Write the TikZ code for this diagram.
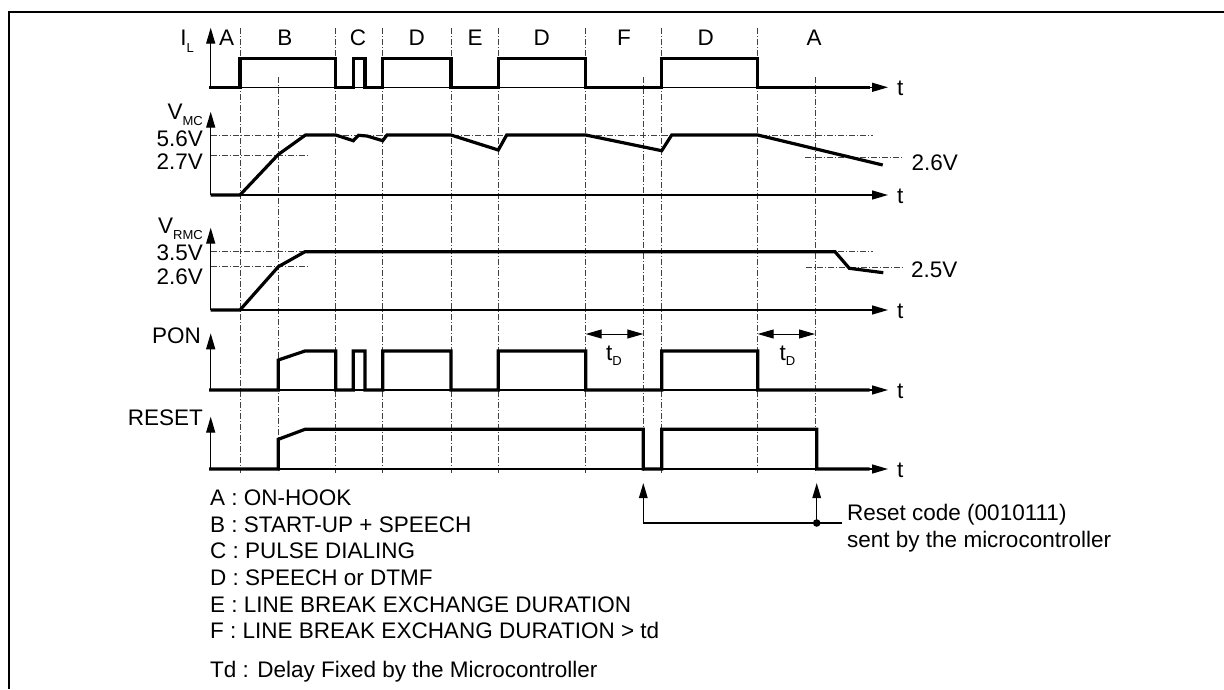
\documentclass[tikz,border=0pt]{standalone}
\usepackage{fontspec}
\setmainfont{Liberation Sans}
\usetikzlibrary{arrows.meta}
\newcommand\lsub[2][-7pt]{\raisebox{#1}{\fontsize{13}{13}\selectfont #2}}
\tikzset{
  sig/.style={line width=3.2pt, line join=miter, line cap=rect},
  axisline/.style={line width=1.4pt, -{Triangle[length=16pt,width=9pt]}},
  gridline/.style={line width=0.7pt, black!75, dash pattern=on 6pt off 2pt on 1pt off 2pt},
  lbl/.style={font=\fontsize{22.5}{27}\selectfont, inner sep=0pt},
  dimline/.style={line width=1pt, {Triangle[length=16pt,width=9pt]}-{Triangle[length=16pt,width=9pt]}},
  codearrow/.style={line width=1.3pt, -{Triangle[length=15pt,width=8.5pt]}},
  thinline/.style={line width=1.3pt}
}
\begin{document}
\begin{tikzpicture}[x=1pt,y=-1pt]
\useasboundingbox (0,0) rectangle (1224,689);
% frame
\draw[line width=2pt] (9,689) -- (9,11.7) -- (1224,11.7);

% vertical guide lines
\foreach \x in {240,335.7,382.7,451,498.3,585.7,661.7,757.7}
  \draw[gridline] (\x,28) -- (\x,473);
\foreach \x in {278.3,643.3,815}
  \draw[gridline] (\x,77) -- (\x,473);

% horizontal reference lines
\draw[gridline] (211,135) -- (872.7,135);
\draw[gridline] (211,155) -- (308,155);
\draw[gridline] (805,157.7) -- (903,157.7);
\draw[gridline] (211,251.7) -- (872.7,251.7);
\draw[gridline] (211,266.7) -- (308,266.7);
\draw[gridline] (806,267.7) -- (904,267.7);

% axes
\foreach \b/\t/\n in {87.3/27.7/1,195/111.7/2,310/227.7/3,390/333.3/4,469/416.7/5} {
  \draw[axisline] (210.7,\b) -- (888,\b);
  \draw[axisline] (210.7,\b) -- (210.7,\t);
  \node[lbl,anchor=base west] (t\n) at (897,\b+8) {t};
}

% period letters
\foreach \x/\l/\n in {226.7/A/1,285/B/2,358/C/3,416.7/D/4,475/E/5,541.7/D/6,624/F/7,705.7/D/8,814/A/9}
  \node[lbl,anchor=base] (per\n) at (\x,45.5) {\l};

% signal labels
\node[lbl,anchor=base east] (lIL) at (194,45) {I\lsub{L}};
\node[lbl,anchor=base east] (lVMC) at (203,119) {V\lsub[-6pt]{MC}};
\node[lbl,anchor=base east] (l56) at (203,146) {5.6V};
\node[lbl,anchor=base east] (l27) at (203,169) {2.7V};
\node[lbl,anchor=base west] (l26r) at (911.5,170) {2.6V};
\node[lbl,anchor=base east] (lVRMC) at (203,233.5) {V\lsub[-5.5pt]{RMC}};
\node[lbl,anchor=base east] (l35) at (203,260.5) {3.5V};
\node[lbl,anchor=base east] (l26) at (203,284.5) {2.6V};
\node[lbl,anchor=base west] (l25r) at (911,277) {2.5V};
\node[lbl,anchor=base east] (lPON) at (201,343) {PON};
\node[lbl,anchor=base east] (lRST) at (203,425) {RESET};

% signals
\draw[sig] (210.7,87.3) -- (240,87.3) -- (240,58.3) -- (335.7,58.3) -- (335.7,87.3)
  -- (353.3,87.3) -- (353.3,58.3) -- (365,58.3) -- (365,87.3) -- (382.7,87.3)
  -- (382.7,58.3) -- (451,58.3) -- (451,87.3) -- (498.3,87.3) -- (498.3,58.3)
  -- (585.7,58.3) -- (585.7,87.3) -- (661.7,87.3) -- (661.7,58.3) -- (757.7,58.3)
  -- (757.7,87.3) -- (868,87.3);
\draw[sig,line cap=butt] (210.7,195) -- (240,195) -- (278.3,154.5) -- (305.5,135) -- (335.7,135)
  -- (353.3,140.7) -- (358.5,135.3) -- (367,136) -- (382.7,140.7) -- (387,135)
  -- (451,135) -- (498.3,150) -- (506.7,135) -- (585.7,135) -- (661.7,150.7)
  -- (671.7,135) -- (757.7,135) -- (882.7,165);
\draw[sig,line cap=butt] (210.7,310) -- (240,310) -- (278.3,266.7) -- (305,251.7) -- (835,251.7)
  -- (849.3,268.3) -- (883.3,272.7);
\draw[sig] (210.7,390) -- (278.3,390) -- (278.3,360) -- (305,351) -- (335.7,351)
  -- (335.7,390) -- (353.3,390) -- (353.3,351) -- (365,351) -- (365,390)
  -- (382.7,390) -- (382.7,351) -- (451,351) -- (451,390) -- (498.3,390)
  -- (498.3,351) -- (585.7,351) -- (585.7,390) -- (661.7,390) -- (661.7,351)
  -- (757.7,351) -- (757.7,390) -- (868,390);
\draw[sig] (210.7,469) -- (278.3,469) -- (278.3,439.3) -- (305,429.3) -- (643.3,429.3)
  -- (643.3,469) -- (661.7,469) -- (661.7,429.3) -- (816.7,429.3) -- (816.7,469)
  -- (868,469);

% tD dimensions
\coordinate (d1a) at (585.7,334); \coordinate (d1b) at (643.3,334);
\coordinate (d2a) at (757.7,334); \coordinate (d2b) at (815,334);
\draw[dimline] (d1a) -- (d1b);
\draw[dimline] (d2a) -- (d2b);
\node[lbl,anchor=base west] (td1) at (606,360) {t\lsub[-5pt]{D}};
\node[lbl,anchor=base west] (td2) at (779.5,360) {t\lsub[-5pt]{D}};

% reset code arrows
\coordinate (r1) at (643.3,523); \coordinate (r1t) at (643.3,483);
\coordinate (r2) at (816.7,523); \coordinate (r2t) at (816.7,483);
\coordinate (r3) at (842,523);
\draw[thinline] (r1) -- (r3);
\draw[codearrow] (r1) -- (r1t);
\draw[codearrow] (r2) -- (r2t);
\fill (r2) circle (3.8);
\node[lbl,anchor=base west] (rc1) at (847,520) {Reset code (0010111)};
\node[lbl,anchor=base west] (rc2) at (847,547) {sent by the microcontroller};

% legend
\node[lbl,anchor=base west] (lgA) at (210,505) {A : ON-HOOK};
\node[lbl,anchor=base west] (lgB) at (210,532) {B : START-UP + SPEECH};
\node[lbl,anchor=base west] (lgC) at (210,558) {C : PULSE DIALING};
\node[lbl,anchor=base west] (lgD) at (210,585) {D : SPEECH or DTMF};
\node[lbl,anchor=base west] (lgE) at (210,612) {E : LINE BREAK EXCHANGE DURATION};
\node[lbl,anchor=base west] (lgF) at (210,638) {F : LINE BREAK EXCHANG DURATION > td};
\node[lbl,anchor=base west] (lgT) at (210,677) {Td : Delay Fixed by the Microcontroller};
\end{tikzpicture}
\end{document}
